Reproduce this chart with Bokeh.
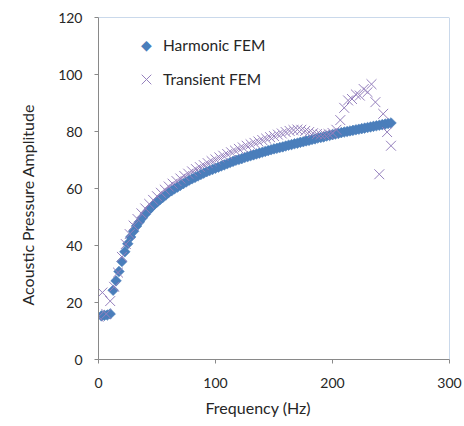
from bokeh.plotting import figure
from bokeh.models import Legend, LegendItem, Span, Label, Title
from bokeh.embed import file_html
from bokeh.resources import INLINE

# ---- data ----
harmonic_freq = [2.5, 5, 7.5, 10, 12.5, 15, 17.5, 20, 22.5, 25, 27.5, 30, 32.5, 35, 37.5, 40,
                 42.5, 45, 47.5, 50, 52.5, 55, 57.5, 60, 62.5, 65, 67.5, 70, 72.5, 75, 77.5, 80,
                 82.5, 85, 87.5, 90, 92.5, 95, 97.5, 100, 102.5, 105, 107.5, 110, 112.5, 115,
                 117.5, 120, 122.5, 125, 127.5, 130, 132.5, 135, 137.5, 140, 142.5, 145, 147.5,
                 150, 152.5, 155, 157.5, 160, 162.5, 165, 167.5, 170, 172.5, 175, 177.5, 180,
                 182.5, 185, 187.5, 190, 192.5, 195, 197.5, 200, 202.5, 205, 207.5, 210, 212.5,
                 215, 217.5, 220, 222.5, 225, 227.5, 230, 232.5, 235, 237.5, 240, 242.5, 245,
                 247.5, 250]
harmonic_amp = [15.3, 15.5, 15.6, 16.0, 24.3, 27.6, 30.9, 34.4, 37.8, 40.6, 43.0, 45.0, 46.8,
                48.3, 49.7, 51.0, 52.2, 53.3, 54.3, 55.2, 56.1, 56.9, 57.7, 58.6, 59.2, 59.9,
                60.5, 61.1, 61.7, 62.3, 62.9, 63.4, 63.9, 64.4, 64.9, 65.4, 65.9, 66.3, 66.7,
                67.1, 67.5, 67.9, 68.3, 68.7, 69.1, 69.5, 69.9, 70.2, 70.5, 70.9, 71.2, 71.5,
                71.8, 72.1, 72.4, 72.7, 73.0, 73.3, 73.6, 73.9, 74.1, 74.4, 74.6, 74.9, 75.2,
                75.4, 75.7, 75.9, 76.2, 76.4, 76.7, 76.9, 77.2, 77.4, 77.7, 77.9, 78.1, 78.4,
                78.6, 78.9, 79.1, 79.3, 79.6, 79.8, 80.0, 80.2, 80.4, 80.6, 80.8, 81.0, 81.2,
                81.4, 81.6, 81.8, 82.0, 82.2, 82.4, 82.6, 82.8, 83.0]

transient_freq = [0, 3.33, 6.67, 10, 13.33, 16.67, 20, 23.33, 26.67, 30, 33.33, 36.67, 40,
                  43.33, 46.67, 50, 53.33, 56.67, 60, 63.33, 66.67, 70, 73.33, 76.67, 80, 83.33,
                  86.67, 90, 93.33, 96.67, 100, 103.33, 106.67, 110, 113.33, 116.67, 120, 123.33,
                  126.67, 130, 133.33, 136.67, 140, 143.33, 146.67, 150, 153.33, 156.67, 160,
                  163.33, 166.67, 170, 173.33, 176.67, 180, 183.33, 186.67, 190, 193.33, 196.67,
                  200, 203.33, 206.67, 210, 213.33, 216.67, 220, 223.33, 226.67, 230, 233.33,
                  236.67, 240, 243.33, 246.67, 250]
transient_amp = [15.0, 23.5, 16.0, 20.5, 25.5, 30.5, 36.0, 40.5, 44.0, 47.0, 49.3, 51.3, 53.0,
                 54.6, 56.0, 57.3, 58.5, 59.6, 60.7, 61.7, 62.6, 63.5, 64.4, 65.2, 66.0, 66.8,
                 67.5, 68.2, 68.9, 69.6, 70.2, 70.9, 71.5, 72.1, 72.7, 73.3, 73.9, 74.4, 75.0,
                 75.5, 76.0, 76.5, 77.0, 77.5, 78.0, 78.4, 78.9, 79.3, 79.8, 80.2, 80.5, 80.7,
                 80.6, 80.2, 79.8, 79.4, 79.1, 78.9, 78.9, 79.1, 79.5, 80.6, 84.0, 88.3, 90.9,
                 91.4, 93.0, 92.6, 94.9, 93.8, 96.6, 90.3, 65.0, 86.2, 79.8, 75.0]

x_ticks = [0, 100, 200, 300]
y_ticks = [0, 20, 40, 60, 80, 100, 120]
series_names = ["Harmonic FEM", "Transient FEM"]
x_title = "Frequency (Hz)"
y_title = "Acoustic Pressure Amplitude"

FONT = "Lato"
TEXT = "#262626"
BLUE = "#4a7ebb"
PURPLE = "#9580bd"

p = figure(width=464, height=426, output_backend="svg", toolbar_location=None,
           x_range=(0, 300), y_range=(0, 120),
           min_border_left=98, min_border_right=15, min_border_top=17, min_border_bottom=67)
p.outline_line_color = None
p.xgrid.visible = False
p.ygrid.visible = False
p.background_fill_color = "white"
p.border_fill_color = "white"

for ax, ticks in ((p.xaxis, x_ticks), (p.yaxis, y_ticks)):
    ax.ticker = ticks
    ax.axis_line_color = "#898989"
    ax.major_tick_line_color = "#898989"
    ax.major_tick_out = 4
    ax.major_tick_in = 0
    ax.minor_tick_line_color = None
    ax.major_label_text_font = FONT
    ax.major_label_text_font_size = "14px"
    ax.major_label_text_color = TEXT
p.xaxis.major_label_standoff = 14
p.yaxis.major_label_standoff = 12

# axis titles, placed like the reference (not centred on the frame)
p.add_layout(Title(text=x_title, align="left", offset=107, vertical_align="bottom",
                   standoff=11, text_font=FONT, text_font_size="16px",
                   text_font_style="normal", text_color=TEXT), "below")
p.add_layout(Title(text=y_title, align="left", offset=54, vertical_align="top",
                   standoff=34, text_font=FONT, text_font_size="16px",
                   text_font_style="normal", text_color=TEXT), "left")

# top / right frame border (light blue)
p.add_layout(Span(location=120, dimension="width", line_color="#95b3d7", line_width=1))
p.add_layout(Span(location=300, dimension="height", line_color="#95b3d7", line_width=1))

r1 = p.scatter(harmonic_freq, harmonic_amp, marker="square", angle=0.7853982, size=7.5,
               fill_color=BLUE, line_color=BLUE, line_width=0.6)
r2 = p.scatter(transient_freq, transient_amp, marker="x", size=14,
               line_color=PURPLE, line_width=1)

# legend: harmonic symbol drawn as a diamond character (legend ignores marker angle)
r_leg = p.scatter(x=[], y=[], marker="square", size=1, fill_alpha=0, line_alpha=0)
legend = Legend(items=[LegendItem(label=series_names[0], renderers=[r_leg]),
                       LegendItem(label=series_names[1], renderers=[r2])],
                location=(31, 263), margin=0, padding=0, spacing=0,
                glyph_width=34, glyph_height=34, label_height=34, label_standoff=-6,
                label_text_font=FONT, label_text_font_size="15.5px", label_text_color=TEXT,
                border_line_color=None, background_fill_alpha=0)
p.add_layout(legend)
p.add_layout(Label(x=41, y=110.2, text="\u25c6", text_align="center", text_baseline="middle",
                   text_font="DejaVu Sans", text_font_size="14px", text_color=BLUE))

open("out.html", "w").write(file_html(p, INLINE))
